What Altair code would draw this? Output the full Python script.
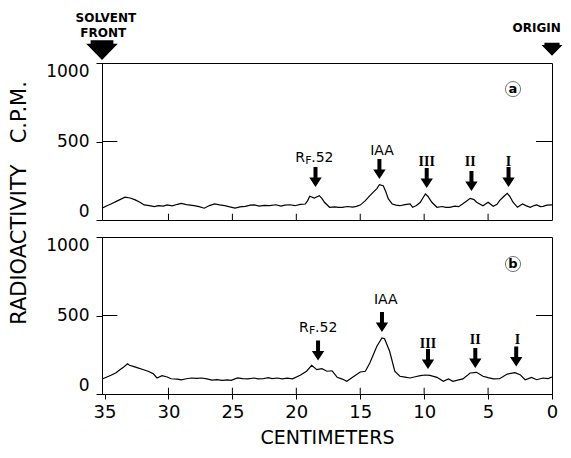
import altair as alt
import pandas as pd

# ---------------- data ----------------
CM_A = [35.2, 34.9, 34.5, 34.0, 33.4, 33.0, 32.6, 32.2, 31.9, 31.5, 31.1, 30.8, 30.4, 30.1,
        29.7, 29.3, 29.0, 28.6, 28.0, 27.6, 27.2, 26.8, 26.4, 26.0, 25.6, 25.2, 24.8, 24.4,
        24.0, 23.6, 23.3, 22.9, 22.5, 22.1, 21.6, 21.2, 20.9, 20.5, 20.1, 19.7, 19.3, 19.1,
        18.95, 18.6, 18.2, 18.0, 17.8, 17.4, 17.0, 16.7, 16.4, 16.0, 15.6, 15.3, 15.0, 14.6,
        14.3, 14.0, 13.7, 13.5, 13.2, 13.0, 12.8, 12.5, 12.2, 11.9, 11.5, 11.1, 10.9, 10.6,
        10.3, 10.1, 9.9, 9.7, 9.4, 9.0, 8.6, 8.3, 8.0, 7.6, 7.3, 7.0, 6.7, 6.4, 6.1, 5.9,
        5.4, 5.0, 4.6, 4.3, 4.1, 3.8, 3.5, 3.3, 3.05, 2.7, 2.5, 2.3, 2.0, 1.7, 1.4, 1.2,
        0.9, 0.7, 0.4, 0.0]
CPM_A = [75, 88, 102, 122, 145, 140, 128, 112, 96, 92, 85, 92, 88, 96,
         90, 100, 106, 98, 91, 85, 75, 92, 102, 96, 91, 84, 76, 84,
         87, 95, 96, 88, 93, 91, 97, 89, 95, 97, 91, 99, 102, 125,
         151, 140, 155, 138, 113, 81, 84, 80, 81, 86, 82, 87, 95, 123,
         150, 176, 200, 225, 218, 180, 134, 102, 95, 91, 98, 102, 81, 92,
         113, 140, 166, 150, 113, 81, 86, 80, 81, 88, 85, 102, 120, 138, 130, 113,
         91, 113, 87, 100, 123, 148, 170, 150, 113, 81, 92, 102, 90, 81, 92, 96,
         85, 87, 95, 96]

CM_B = [35.2, 35.0, 34.5, 34.1, 33.8, 33.5, 33.2, 33.05, 32.7, 32.4, 32.0, 31.6, 31.2, 30.9,
        30.5, 30.1, 29.8, 29.3, 29.0, 28.6, 28.2, 27.8, 27.4, 27.0, 26.6, 26.2, 25.8, 25.4,
        25.1, 24.6, 24.2, 23.8, 23.3, 23.0, 22.6, 22.2, 21.9, 21.5, 21.1, 20.7, 20.3, 19.7,
        19.2, 18.8, 18.4, 18.0, 17.6, 17.2, 16.8, 16.4, 16.05, 15.6, 15.0, 14.6, 14.25, 13.7,
        13.3, 13.1, 12.7, 12.3, 11.9, 11.5, 11.1, 10.7, 10.3, 9.9, 9.55, 9.0, 8.5, 8.1,
        7.75, 7.3, 6.97, 6.4, 5.9, 5.4, 5.0, 4.6, 4.1, 3.5, 2.9, 2.5, 2.1, 1.6, 1.2, 0.7,
        0.3, 0.0]
CPM_B = [95, 102, 119, 135, 155, 172, 193, 183, 174, 166, 156, 145, 130, 102,
         117, 108, 97, 95, 90, 97, 102, 99, 102, 96, 89, 92, 87, 90,
         87, 102, 98, 96, 102, 96, 97, 104, 98, 102, 96, 101, 97, 119,
         145, 183, 155, 161, 145, 148, 106, 95, 81, 106, 140, 145, 197, 304,
         357, 352, 272, 145, 113, 108, 102, 110, 117, 121, 119, 106, 81, 96,
         81, 90, 96, 134, 138, 113, 104, 96, 97, 127, 136, 123, 91, 106, 91, 102,
         98, 108]

PEAK_NAMES = ["RF.52", "IAA", "III", "II", "I"]
ARROW_A_CM = [18.5, 13.5, 9.8, 6.3, 3.4]
ARROW_A_CPM = [274, 325, 268, 248, 274]
ARROW_B_CM = [18.3, 13.3, 9.7, 6.0, 2.8]
ARROW_B_CPM = [277, 459, 223, 229, 239]
LABEL_A_CM = [18.6, 13.3, 9.8, 6.4, 3.4]
LABEL_A_CPM = [395, 440, 369, 369, 369]
LABEL_B_CM = [18.3, 13.0, 9.7, 6.0, 2.7]
LABEL_B_CPM = [420, 599, 318, 344, 344]

PANEL_TAGS = ["a", "b"]
TAG_CM = [3.05, 3.05]
TAG_CPM = [834, 828]

TOP_TEXT = ["SOLVENT", "FRONT", "ORIGIN"]
TOP_TEXT_CM = [34.9, 35.1, 1.2]
TOP_TEXT_CPM = [1285, 1188, 1222]
BIG_ARROW_CM = [35.2, 0.0]
BIG_ARROW_CPM = [1082, 1088]
BIG_ARROW_SIZE = [1000, 440]

X_TICKS = [35, 30, 25, 20, 15, 10, 5, 0]
Y_TICKS = [0, 500, 1000]

# ---------------- table ----------------
rows = []
for p, cms, cps in (("a", CM_A, CPM_A), ("b", CM_B, CPM_B)):
    for x, y in zip(cms, cps):
        rows.append(dict(panel=p, kind="curve", x=x, y=y))
for p, axs, ays, lxs, lys in (("a", ARROW_A_CM, ARROW_A_CPM, LABEL_A_CM, LABEL_A_CPM),
                               ("b", ARROW_B_CM, ARROW_B_CPM, LABEL_B_CM, LABEL_B_CPM)):
    for name, ax, ay, lx, ly in zip(PEAK_NAMES, axs, ays, lxs, lys):
        rows.append(dict(panel=p, kind="arrow", x=ax, y=ay))
        if name == "RF.52":
            k = "rf"
        elif name == "IAA":
            k = "label"
        else:
            k = "roman"
        rows.append(dict(panel=p, kind=k, x=lx, y=ly, text=name))
for p, tx, ty in zip(PANEL_TAGS, TAG_CM, TAG_CPM):
    rows.append(dict(panel=p, kind="tag", x=tx, y=ty, text=p))
for t, tx, ty in zip(TOP_TEXT, TOP_TEXT_CM, TOP_TEXT_CPM):
    rows.append(dict(panel="a", kind="toptext", x=tx, y=ty, text=t))
for bx, by, bs in zip(BIG_ARROW_CM, BIG_ARROW_CPM, BIG_ARROW_SIZE):
    rows.append(dict(panel="a", kind="bigarrow", x=bx, y=by, s=bs))
for p in PANEL_TAGS:
    for v in X_TICKS[1:-1]:
        rows.append(dict(panel=p, kind="tick", x=v, x2=v, y=0, y2=40))
    rows.append(dict(panel=p, kind="tick", x=35.2, x2=34.0, y=500, y2=500))
    rows.append(dict(panel=p, kind="tick", x=0.0, x2=1.25, y=500, y2=500))
df = pd.DataFrame(rows)

FONT = "DejaVu Sans"
SMALL_ARROW = "M-0.2,-1L0.2,-1L0.2,0.05L0.62,0.05L0,1L-0.62,0.05L-0.2,0.05Z"
BIG_ARROW = "M-0.72,-0.62L0.72,-0.62L0.72,-0.4L1,-0.4L0,0.62L-1,-0.4L-0.72,-0.4Z"

xs = alt.Scale(domain=[0, 35.2], reverse=True, nice=False, zero=False)
ys = alt.Scale(domain=[0, 1000], nice=False)
X = alt.X("x:Q", scale=xs, axis=alt.Axis(values=X_TICKS, title="CENTIMETERS", grid=False,
                                          labelFontSize=18, labelFont=FONT, labelColor="black",
                                          titleFontSize=19, titleFont=FONT, titleFontWeight="normal",
                                          titleColor="black", titlePadding=7, tickSize=5,
                                          labelPadding=4, domainColor="black", tickColor="black",
                                          labelFlush=False, format="d"))
Y = alt.Y("y:Q", scale=ys, axis=alt.Axis(values=Y_TICKS, title=None, grid=False, format="d",
                                          labelFontSize=17, labelFont=FONT, labelColor="black",
                                          tickSize=6, labelPadding=7, domainColor="black",
                                          tickColor="black", labelFlush=True))

base = alt.Chart().encode(x=X, y=Y)

def only(kind):
    return alt.datum.kind == kind

curve = base.mark_line(color="black", strokeWidth=1.2).transform_filter(only("curve"))
ticks = base.mark_rule(color="black", strokeWidth=1).encode(x2="x2:Q", y2="y2:Q").transform_filter(only("tick"))
arrows = base.mark_point(shape=SMALL_ARROW, size=400, filled=True, color="black", opacity=1).transform_filter(only("arrow"))
bigarrows = base.mark_point(shape=BIG_ARROW, filled=True, color="black", opacity=1).encode(
    size=alt.Size("s:Q", scale=None, legend=None)).transform_filter(only("bigarrow"))
labels = base.mark_text(font=FONT, fontSize=14, color="black").encode(text="text:N").transform_filter(only("label"))
roman = base.mark_text(font="Liberation Serif", fontSize=14, fontWeight="bold", color="black").encode(text="text:N").transform_filter(only("roman"))
rf_r = base.mark_text(font=FONT, fontSize=14, align="left", dx=-19, color="black").encode(text=alt.value("R")).transform_filter(only("rf"))
rf_f = base.mark_text(font=FONT, fontSize=11, align="left", dx=-9, dy=3, color="black").encode(text=alt.value("F")).transform_filter(only("rf"))
rf_n = base.mark_text(font=FONT, fontSize=14, align="left", dx=-3, color="black").encode(text=alt.value(".52")).transform_filter(only("rf"))
toptext = base.mark_text(font=FONT, fontSize=12, fontWeight="bold", color="black").encode(text="text:N").transform_filter(only("toptext"))
tagcircle = base.mark_point(shape="circle", size=230, filled=False, color="#555", strokeWidth=0.8, opacity=1).transform_filter(only("tag"))
tagtext = base.mark_text(font=FONT, fontSize=13, fontWeight="bold", color="black").encode(text="text:N").transform_filter(only("tag"))

layered = alt.layer(curve, ticks, arrows, bigarrows, labels, roman, rf_r, rf_f, rf_n,
                    toptext, tagcircle, tagtext, data=df).properties(width=450, height=157)

chart = layered.facet(
    row=alt.Row("panel:N", sort=["a", "b"],
                header=alt.Header(title="RADIOACTIVITY\u2003C.P.M.", labels=False,
                                  titleFont=FONT, titleFontSize=21, titleFontWeight="normal",
                                  titleColor="black", titlePadding=5, labelPadding=0)),
    spacing=17,
).properties(
    bounds="flush",
    padding={"top": 3, "left": 0, "right": 0, "bottom": 0},
    background="white",
).configure_view(stroke="black", strokeWidth=1)

chart.save("out.html", embed_options={"renderer": "svg", "actions": False})
